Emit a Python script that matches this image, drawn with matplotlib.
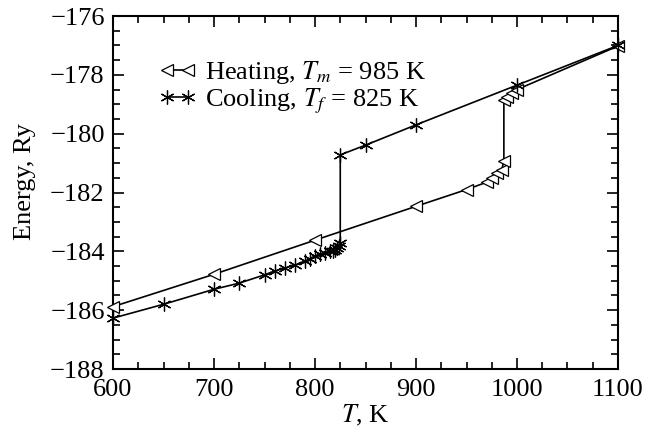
import numpy as np
import matplotlib
matplotlib.use("Agg")
import matplotlib.pyplot as plt
from matplotlib.ticker import MultipleLocator

plt.rcParams['font.family'] = ['Liberation Serif', 'DejaVu Serif']
plt.rcParams['mathtext.fontset'] = 'stix'

# heating run (open triangles)
t_heat = [600, 700, 800, 900, 950, 970, 975, 980, 985, 987, 987, 990, 995, 1000, 1100]
e_heat = [-185.88, -184.78, -183.62, -182.47, -181.9, -181.65, -181.5, -181.35, -181.22,
          -180.92, -178.86, -178.75, -178.6, -178.5, -177.02]

# cooling run (asterisks)
t_cool = [1100, 1000, 900, 850, 825, 825, 824, 822, 820, 818, 815, 810, 805, 800,
          795, 790, 780, 770, 760, 750, 725, 700, 650, 600]
e_cool = [-177.0, -178.35, -179.7, -180.39, -180.72, -183.72, -183.82, -183.9, -183.95,
          -183.98, -184.0, -184.05, -184.1, -184.15, -184.25, -184.33, -184.47, -184.57,
          -184.67, -184.8, -185.08, -185.29, -185.8, -186.27]

fig = plt.figure(figsize=(6.51, 4.33), dpi=100, facecolor='white')
ax = fig.add_axes([0.1736, 0.1478, 0.7757, 0.8152])

ax.plot(t_heat, e_heat, color='black', lw=1.2, marker='<', ms=9, mfc='white',
        mec='black', mew=0.9, clip_on=False, zorder=3,
        label=r'Heating, $T_m$ = 985 K')
ax.plot(t_cool, e_cool, color='black', lw=1.2, marker=(6, 2, 0), ms=10,
        mew=0.9, clip_on=False, zorder=4,
        label=r'Cooling, $T_f$ = 825 K')

ax.set_xlim(600, 1100)
ax.set_ylim(-188, -176)
ax.xaxis.set_major_locator(MultipleLocator(100))
ax.xaxis.set_minor_locator(MultipleLocator(25))
ax.yaxis.set_major_locator(MultipleLocator(2))
ax.yaxis.set_minor_locator(MultipleLocator(0.5))
ax.tick_params(which='both', direction='in', top=True, right=True, labelsize=19,
               width=1.2)
ax.tick_params(which='major', length=8)
ax.tick_params(axis='x', which='major', pad=7)
ax.tick_params(axis='y', which='major', pad=6)
ax.tick_params(which='minor', length=5)
for s in ax.spines.values():
    s.set_linewidth(1.5)

ax.set_xlabel(r'$T$, K', fontsize=19)
ax.xaxis.set_label_coords(0.5, -0.095)
ax.set_ylabel('Energy, Ry', fontsize=19)
ax.yaxis.set_label_coords(-0.152, 0.53)

ax.legend(loc='upper left', bbox_to_anchor=(0.065, 0.915), frameon=False,
          fontsize=19, numpoints=2, handlelength=1.4, handletextpad=0.35,
          labelspacing=0.0, borderpad=0)

fig.savefig('out.png', dpi=100)
